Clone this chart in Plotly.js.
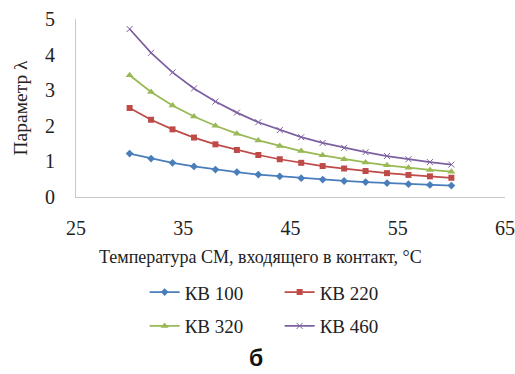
<!DOCTYPE html>
<html>
<head>
<meta charset="utf-8">
<script src="https://cdn.plot.ly/plotly-3.0.1.min.js"></script>
<style>html,body{margin:0;padding:0;background:#fff;}#chart{width:515px;height:374px;}</style>
</head>
<body>
<div id="chart"></div>
<script>
var temperature = [30, 32, 34, 36, 38, 40, 42, 44, 46, 48, 50, 52, 54, 56, 58, 60];
var kv100 = [1.22, 1.08, 0.96, 0.86, 0.77, 0.70, 0.63, 0.58, 0.53, 0.49, 0.45, 0.42, 0.39, 0.36, 0.34, 0.32];
var kv220 = [2.50, 2.17, 1.90, 1.67, 1.48, 1.32, 1.18, 1.06, 0.96, 0.87, 0.80, 0.73, 0.67, 0.62, 0.58, 0.54];
var kv320 = [3.42, 2.95, 2.57, 2.26, 2.00, 1.78, 1.59, 1.43, 1.29, 1.17, 1.06, 0.97, 0.89, 0.82, 0.76, 0.71];
var kv460 = [4.72, 4.05, 3.50, 3.05, 2.68, 2.37, 2.10, 1.88, 1.68, 1.52, 1.38, 1.26, 1.15, 1.06, 0.98, 0.91];
var seriesNames = ['КВ 100', 'КВ 220', 'КВ 320', 'КВ 460'];
var xTicks = [25, 35, 45, 55, 65];
var yTicks = [0, 1, 2, 3, 4, 5];
var xTitle = 'Температура СМ, входящего в контакт, °C';
var yTitle = 'Параметр λ';
var panelLabel = 'б';

var serif = "Liberation Serif";
function tr(y, name, color, symbol, size, legend, open) {
  return {
    x: temperature, y: y, name: name, type: 'scatter', mode: 'lines+markers',
    line: {color: color, width: 1.75},
    marker: open ? {symbol: symbol, size: size, color: color, line: {color: color, width: 1}}
                 : {symbol: symbol, size: size, color: color},
    legend: legend
  };
}
var data = [
  tr(kv100, seriesNames[0], '#4A7EBB', 'diamond', 6, 'legend'),
  tr(kv220, seriesNames[1], '#BE4B48', 'square', 6, 'legend'),
  tr(kv320, seriesNames[2], '#98B954', 'triangle-up', 7, 'legend2'),
  tr(kv460, seriesNames[3], '#7D60A0', 'x-thin-open', 6, 'legend2', true)
];
var legendCommon = {orientation: 'h', xanchor: 'left', yanchor: 'middle', entrywidth: 90,
  font: {family: serif, size: 19, color: '#222'}, itemwidth: 30, bgcolor: 'rgba(0,0,0,0)'};
var layout = {
  width: 515, height: 374,
  margin: {l: 76, r: 10, t: 19, b: 177},
  paper_bgcolor: '#fff', plot_bgcolor: '#fff',
  showlegend: true,
  font: {family: serif, color: '#222'},
  xaxis: {
    range: [25, 65], tickvals: xTicks, ticktext: xTicks.map(String),
    showgrid: false, zeroline: false, showline: true, linecolor: '#C8C8C8', linewidth: 1,
    ticks: '', tickfont: {family: serif, size: 20, color: '#222'}, ticklabelstandoff: 13
  },
  yaxis: {
    range: [0, 5], tickvals: yTicks, ticktext: yTicks.map(String),
    showgrid: false, zeroline: false, showline: true, linecolor: '#C8C8C8', linewidth: 1,
    ticks: '', tickfont: {family: serif, size: 20, color: '#222'}, ticklabelstandoff: 16,
    title: {text: yTitle, font: {family: serif, size: 19.5, color: '#222'}, standoff: 12}
  },
  legend: Object.assign({x: 0.16, y: -0.535}, legendCommon),
  legend2: Object.assign({x: 0.16, y: -0.725}, legendCommon),
  annotations: [{
    text: xTitle, xref: 'paper', yref: 'paper', x: 0.431, y: -0.335,
    xanchor: 'center', yanchor: 'middle', showarrow: false,
    font: {family: serif, size: 18, color: '#222'}
  }, {
    text: '<b>' + panelLabel + '</b>', xref: 'paper', yref: 'paper', x: 0.42, y: -0.905,
    xanchor: 'center', yanchor: 'middle', showarrow: false,
    font: {family: "Liberation Sans", size: 23, color: '#111'}
  }]
};
Plotly.newPlot('chart', data, layout, {displayModeBar: false, staticPlot: true});
</script>
</body>
</html>
